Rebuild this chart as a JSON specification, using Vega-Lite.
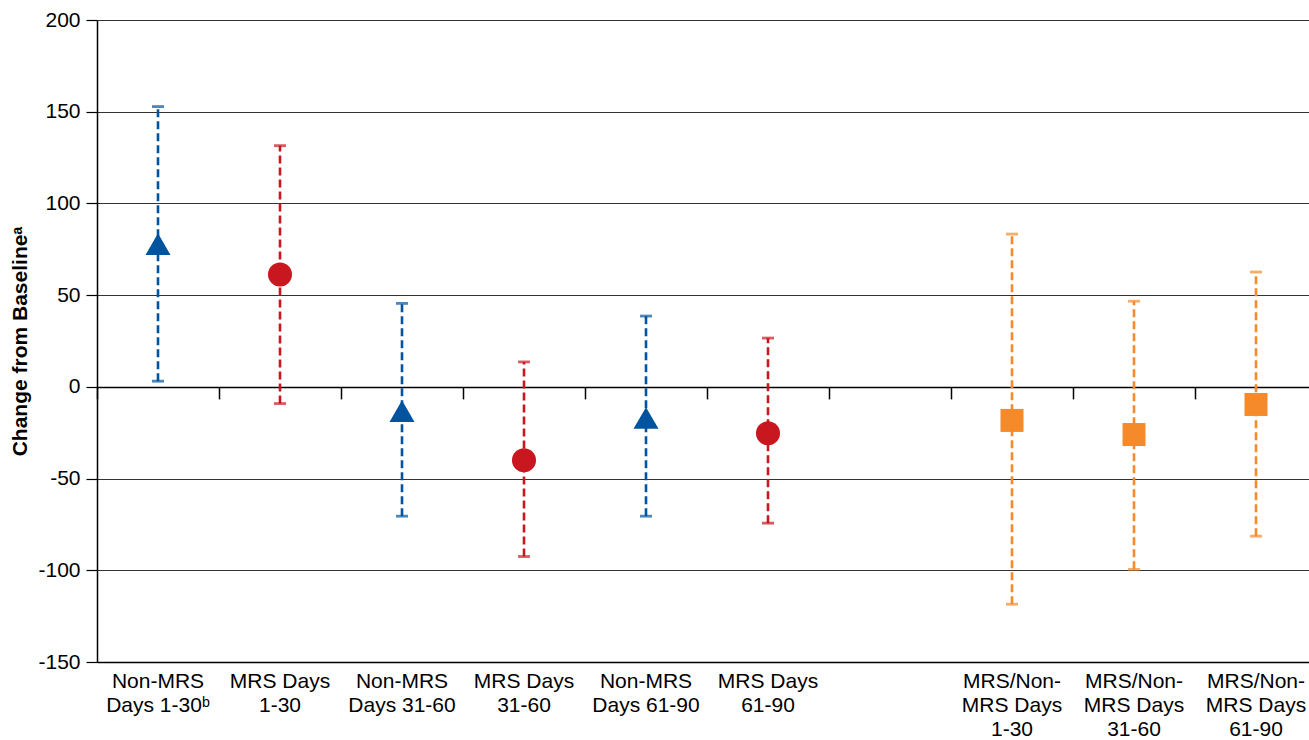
{
  "$schema": "https://vega.github.io/schema/vega-lite/v6.json",
  "width": 1212,
  "height": 642,
  "autosize": {"type": "none"},
  "padding": {"left": 97, "top": 20, "right": 0, "bottom": 78},
  "background": "white",
  "config": {
    "view": {"stroke": null},
    "font": "Liberation Sans",
    "axis": {"labelFont": "Liberation Sans", "titleFont": "Liberation Sans", "labelColor": "#000", "titleColor": "#000"}
  },
  "data": {
    "values": [
      {"cat": "Non-MRS|Days 1-30ᵇ", "grp": "Non-MRS", "mean": 77.8, "lo": 3.1, "hi": 152.8},
      {"cat": "MRS Days|1-30", "grp": "MRS", "mean": 61.3, "lo": -9.1, "hi": 131.5},
      {"cat": "Non-MRS|Days 31-60", "grp": "Non-MRS", "mean": -13.2, "lo": -70.5, "hi": 45.5},
      {"cat": "MRS Days|31-60", "grp": "MRS", "mean": -40, "lo": -92.5, "hi": 13.6},
      {"cat": "Non-MRS|Days 61-90", "grp": "Non-MRS", "mean": -17, "lo": -70.5, "hi": 38.6},
      {"cat": "MRS Days|61-90", "grp": "MRS", "mean": -25.3, "lo": -74.3, "hi": 26.6},
      {"cat": "MRS/Non-|MRS Days|1-30", "grp": "MRS/Non-MRS", "mean": -18.3, "lo": -118.5, "hi": 83.3},
      {"cat": "MRS/Non-|MRS Days|31-60", "grp": "MRS/Non-MRS", "mean": -26, "lo": -99.5, "hi": 46.7},
      {"cat": "MRS/Non-|MRS Days|61-90", "grp": "MRS/Non-MRS", "mean": -9.6, "lo": -81.4, "hi": 62.6}
    ]
  },
  "resolve": {"axis": {"x": "independent"}},
  "layer": [
    {
      "mark": {"type": "rule", "strokeDash": [8, 4], "strokeWidth": 2.6},
      "encoding": {
        "x": {
          "field": "cat", "type": "nominal", "sort": null,
          "scale": {"domain": ["Non-MRS|Days 1-30ᵇ", "MRS Days|1-30", "Non-MRS|Days 31-60", "MRS Days|31-60", "Non-MRS|Days 61-90", "MRS Days|61-90", " ", "MRS/Non-|MRS Days|1-30", "MRS/Non-|MRS Days|31-60", "MRS/Non-|MRS Days|61-90"], "range": [0, 1220], "paddingInner": 0, "paddingOuter": 0},
          "axis": {"orient": "bottom", "title": null, "labelAngle": 0, "labelExpr": "split(datum.label, '|')", "labelFontSize": 21, "labelLineHeight": 24, "labelPadding": 8, "ticks": false, "domain": true, "domainColor": "#000", "domainWidth": 1.5, "grid": false, "labelOverlap": false, "labelBound": false}
        },
        "y": {
          "field": "lo", "type": "quantitative",
          "scale": {"domain": [-150, 200], "nice": false, "zero": false},
          "axis": {"title": "Change from Baselineᵃ", "titleFontSize": 21, "titleFontWeight": "bold", "titlePadding": 7, "values": [-150, -100, -50, 0, 50, 100, 150, 200], "labelExpr": "'' + datum.value", "labelFontSize": 21, "labelPadding": 6, "tickSize": 11, "tickColor": "#000", "tickWidth": 1.2, "domainColor": "#000", "domainWidth": 1.5, "grid": true, "gridColor": "#333", "gridWidth": 1.2}
        },
        "y2": {"field": "hi"},
        "color": {"field": "grp", "type": "nominal", "legend": null, "scale": {"domain": ["Non-MRS", "MRS", "MRS/Non-MRS"], "range": ["#00539F", "#C8171E", "#F58A2A"]}}
      }
    },
    {
      "mark": {"type": "tick", "thickness": 2.8, "size": 12},
      "encoding": {
        "x": {
          "field": "cat", "type": "nominal", "sort": null,
          "axis": {"orient": "bottom", "offset": -275.1, "title": null, "labels": false, "ticks": true, "tickBand": "extent", "tickSize": 12, "tickColor": "#000", "tickWidth": 1.5, "domain": true, "domainColor": "#000", "domainWidth": 1.5, "grid": false}
        },
        "y": {"field": "hi", "type": "quantitative", "axis": {"title": "Change from Baselineᵃ"}},
        "color": {"field": "grp", "type": "nominal", "legend": null}
      }
    },
    {
      "mark": {"type": "tick", "thickness": 2.8, "size": 12},
      "encoding": {
        "x": {"field": "cat", "type": "nominal", "sort": null, "axis": null},
        "y": {"field": "lo", "type": "quantitative", "axis": {"title": "Change from Baselineᵃ"}},
        "color": {"field": "grp", "type": "nominal", "legend": null}
      }
    },
    {
      "mark": {"type": "point", "filled": true, "opacity": 1},
      "encoding": {
        "x": {"field": "cat", "type": "nominal", "sort": null, "axis": null},
        "y": {"field": "mean", "type": "quantitative", "axis": {"title": "Change from Baselineᵃ"}},
        "color": {"field": "grp", "type": "nominal", "legend": null},
        "shape": {"field": "grp", "type": "nominal", "legend": null, "scale": {"domain": ["Non-MRS", "MRS", "MRS/Non-MRS"], "range": ["triangle-up", "circle", "square"]}},
        "size": {"field": "grp", "type": "nominal", "legend": null, "scale": {"domain": ["Non-MRS", "MRS", "MRS/Non-MRS"], "range": [625, 529, 529]}}
      }
    }
  ]
}
